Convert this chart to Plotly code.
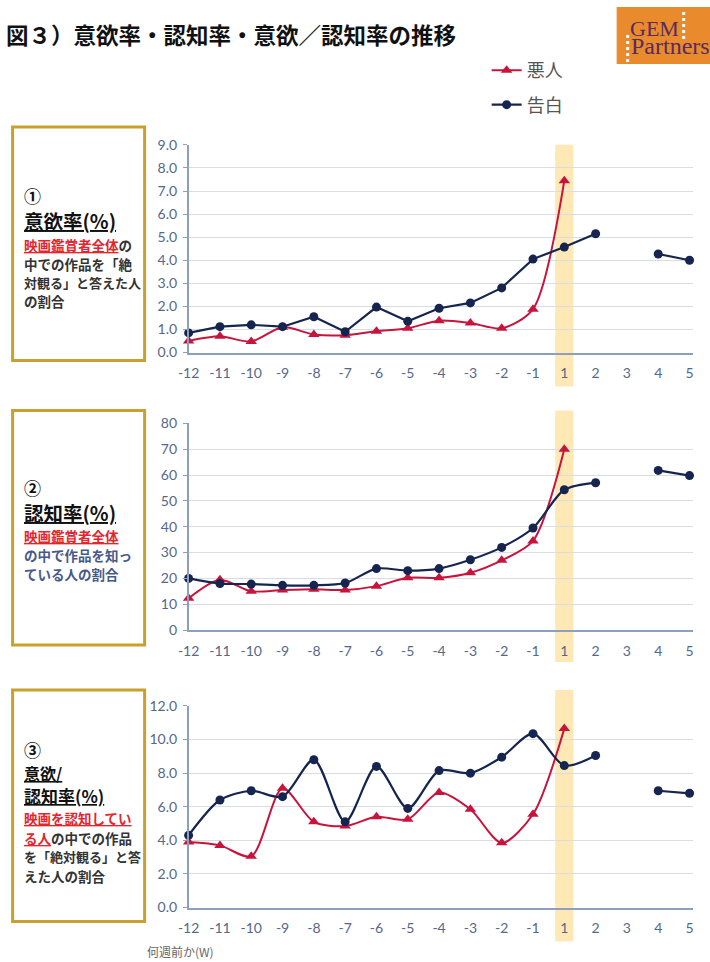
import plotly.graph_objects as go

# Weeks relative to release (1 = opening week)
weeks = ["-12", "-11", "-10", "-9", "-8", "-7", "-6", "-5", "-4", "-3", "-2", "-1", "1", "2", "3", "4", "5"]

# ① 意欲率 (%)
intent_akunin = [0.5, 0.7, 0.48, 1.1, 0.78, 0.75, 0.92, 1.05, 1.38, 1.28, 1.05, 1.88, 7.45, None, None, None, None]
intent_kokuhaku = [0.85, 1.12, 1.2, 1.12, 1.55, 0.9, 1.97, 1.35, 1.92, 2.15, 2.8, 4.05, 4.57, 5.15, None, 4.27, 4.0]

# ② 認知率 (%)
aware_akunin = [12.3, 19.5, 15.0, 15.5, 15.8, 15.5, 17.0, 20.2, 20.2, 22.2, 27.0, 34.5, 70.0, None, None, None, None]
aware_kokuhaku = [20.0, 18.0, 17.8, 17.3, 17.3, 18.2, 23.8, 23.0, 23.8, 27.2, 32.0, 39.5, 54.3, 57.0, None, 61.8, 59.8]

# ③ 意欲/認知率 (%)
ratio_akunin = [3.9, 3.7, 3.05, 7.1, 5.1, 4.85, 5.4, 5.25, 6.85, 5.85, 3.85, 5.55, 10.65, None, None, None, None]
ratio_kokuhaku = [4.3, 6.4, 6.95, 6.6, 8.8, 5.1, 8.4, 5.9, 8.15, 8.0, 8.95, 10.35, 8.45, 9.05, None, 6.95, 6.8]

y_ticks_1 = [0, 1, 2, 3, 4, 5, 6, 7, 8, 9]
y_ticks_2 = [0, 10, 20, 30, 40, 50, 60, 70, 80]
y_ticks_3 = [0, 2, 4, 6, 8, 10, 12]

W, H = 710, 962
RED = "#c8143c"
NAVY = "#15254f"
AXIS = "#8c9fbd"
GRID = "#d9dde3"
TICKFONT = dict(family="Lato, Open Sans, sans-serif", size=14, color="#56678a")
JP = "Noto Sans CJK JP"

# layout positions are given in on-screen pixels; the page is shown with a
# small offset/scale, so convert screen pixels back to figure pixels
SX, OX = 0.983, 10.4
SY, OY = 0.984, 7.9


def px(x):
    return ((x - OX) / SX) / W


def py(y):
    return 1 - ((y - OY) / SY) / H


idx = list(range(len(weeks)))
open_idx = weeks.index("1")

fig = go.Figure()

panels = [
    ("", intent_akunin, intent_kokuhaku, True, "linear"),
    ("2", aware_akunin, aware_kokuhaku, False, "spline"),
    ("3", ratio_akunin, ratio_kokuhaku, False, "spline"),
]
for sfx, red_vals, navy_vals, legend, navy_shape in panels:
    fig.add_trace(go.Scatter(
        x=idx, y=red_vals, name="悪人", mode="lines+markers",
        line=dict(color=RED, width=2, shape="spline", smoothing=0.8),
        marker=dict(symbol="triangle-up", size=10, color=RED),
        xaxis="x" + sfx, yaxis="y" + sfx, cliponaxis=False,
        showlegend=legend, legendgroup="a", connectgaps=False,
    ))
    fig.add_trace(go.Scatter(
        x=idx, y=navy_vals, name="告白", mode="lines+markers",
        line=dict(color=NAVY, width=2.2, shape=navy_shape, smoothing=0.8),
        marker=dict(symbol="circle", size=9, color=NAVY),
        xaxis="x" + sfx, yaxis="y" + sfx, cliponaxis=False,
        showlegend=legend, legendgroup="b", connectgaps=False,
    ))

# plot-area geometry: (axis top px, axis bottom px, range, ticks, tick format)
geo = [
    ("", 144, 352, [0, 9], y_ticks_1, ".1f"),
    ("2", 423, 630, [0, 80], y_ticks_2, "d"),
    ("3", 706, 908, [0, 12], y_ticks_3, ".1f"),
]
layout_axes = {}
for sfx, top, bottom, rng, ticks, fmt in geo:
    layout_axes["xaxis" + sfx] = dict(
        domain=[px(188), px(692)], range=[0, 16.1], anchor="y" + sfx,
        tickmode="array", tickvals=idx, ticktext=weeks, tickfont=TICKFONT,
        showgrid=False, zeroline=False, showline=True, linecolor=AXIS, linewidth=1.5,
        ticks="", ticklabelstandoff=7, fixedrange=True,
    )
    layout_axes["yaxis" + sfx] = dict(
        domain=[py(bottom), py(top)], range=rng, anchor="x" + sfx,
        tickmode="array", tickvals=ticks, tickformat=fmt, tickfont=TICKFONT,
        showgrid=True, gridcolor=GRID, gridwidth=1, zeroline=False,
        showline=True, linecolor=AXIS, linewidth=1.5,
        ticks="outside", ticklen=4, tickcolor=AXIS, ticklabelstandoff=3,
    )

shapes = []
# opening-week highlight bands
for sfx, top, bottom in [("", 144, 386), ("2", 410, 662), ("3", 690, 942)]:
    shapes.append(dict(
        type="rect", xref="x" + sfx, yref="paper",
        x0=open_idx - 0.29, x1=open_idx + 0.29, y0=py(bottom), y1=py(top),
        fillcolor="#fde8b6", line=dict(width=0), layer="below",
    ))

# description boxes
for top, bottom in [(126, 360), (410, 645), (690, 922)]:
    shapes.append(dict(
        type="rect", xref="paper", yref="paper",
        x0=px(12), x1=px(144), y0=py(bottom), y1=py(top),
        line=dict(color="#c9a02c", width=3), fillcolor="white", layer="below",
    ))

# logo
shapes.append(dict(type="rect", xref="paper", yref="paper",
                   x0=px(616), x1=px(716), y0=py(63), y1=py(6),
                   fillcolor="#e98b2c", line=dict(width=0)))
shapes.append(dict(type="line", xref="paper", yref="paper",
                   x0=px(627), x1=px(627), y0=py(61), y1=py(34),
                   line=dict(color="white", width=3, dash="dot")))
shapes.append(dict(type="line", xref="paper", yref="paper",
                   x0=px(683), x1=px(683), y0=py(38), y1=py(9),
                   line=dict(color="white", width=3, dash="dot")))

annotations = []


def note(x, y, text, size=13.5, color="#333333", bold=True, family=JP):
    if bold:
        text = "<b>" + text + "</b>"
    annotations.append(dict(
        x=px(x), y=py(y), xref="paper", yref="paper", text=text,
        showarrow=False, xanchor="left", yanchor="middle",
        font=dict(family=family, size=size, color=color),
    ))


red_u = lambda s: "<span style='color:%s'><u>%s</u></span>" % ("#e3262e", s)

# box ①
note(21, 195, "①", size=17, color="#111111")
note(21, 220, "<u>意欲率(%)</u>", size=19.5, color="#111111")
note(21, 244, red_u("映画鑑賞者全体") + "の")
note(21, 263, "中での作品を「絶")
note(21, 281.5, "対観る」と答えた人", size=13)
note(21, 300, "の割合")

# box ②
note(21, 487, "②", size=17, color="#111111")
note(21, 512, "<u>認知率(%)</u>", size=19.5, color="#111111")
note(21, 535.5, red_u("映画鑑賞者全体"))
note(21, 554.5, "の中で作品を知っ", color="#46598a")
note(21, 574, "ている人の割合", color="#46598a")

# box ③
note(21, 750, "③", size=17, color="#111111")
note(21, 773, "<u>意欲/</u>", size=16, color="#111111")
note(21, 796, "<u>認知率(%)</u>", size=17, color="#111111")
note(21, 818, red_u("映画を認知してい"))
note(21, 838, red_u("る人") + "の中での作品")
note(21, 857, "を「絶対観る」と答", size=13)
note(21, 876, "えた人の割合")

# title
note(3, 33, "図３）意欲率・認知率・意欲／認知率の推移", size=22.5, color="#111111")

# axis caption
note(144, 952, "何週前か(W)", size=12, color="#666666", bold=False)

# logo text
annotations.append(dict(x=px(654), y=py(27), xref="paper", yref="paper", text="GEM",
                        showarrow=False, xanchor="center", yanchor="middle",
                        font=dict(family="Liberation Serif", size=22, color="#5a2a60")))
annotations.append(dict(x=px(628), y=py(45), xref="paper", yref="paper", text="Partners",
                        showarrow=False, xanchor="left", yanchor="middle",
                        font=dict(family="Liberation Serif", size=24, color="#5a2a60")))

fig.update_layout(
    width=W, height=H, margin=dict(l=0, r=0, t=0, b=0),
    paper_bgcolor="white", plot_bgcolor="white",
    shapes=shapes, annotations=annotations,
    legend=dict(x=px(486), y=py(51), xanchor="left", yanchor="top",
                font=dict(family=JP, size=18, color="#555555"),
                traceorder="grouped", tracegroupgap=8, bgcolor="rgba(0,0,0,0)",
                itemwidth=30),
    **layout_axes,
)

fig.write_html("out.html")
